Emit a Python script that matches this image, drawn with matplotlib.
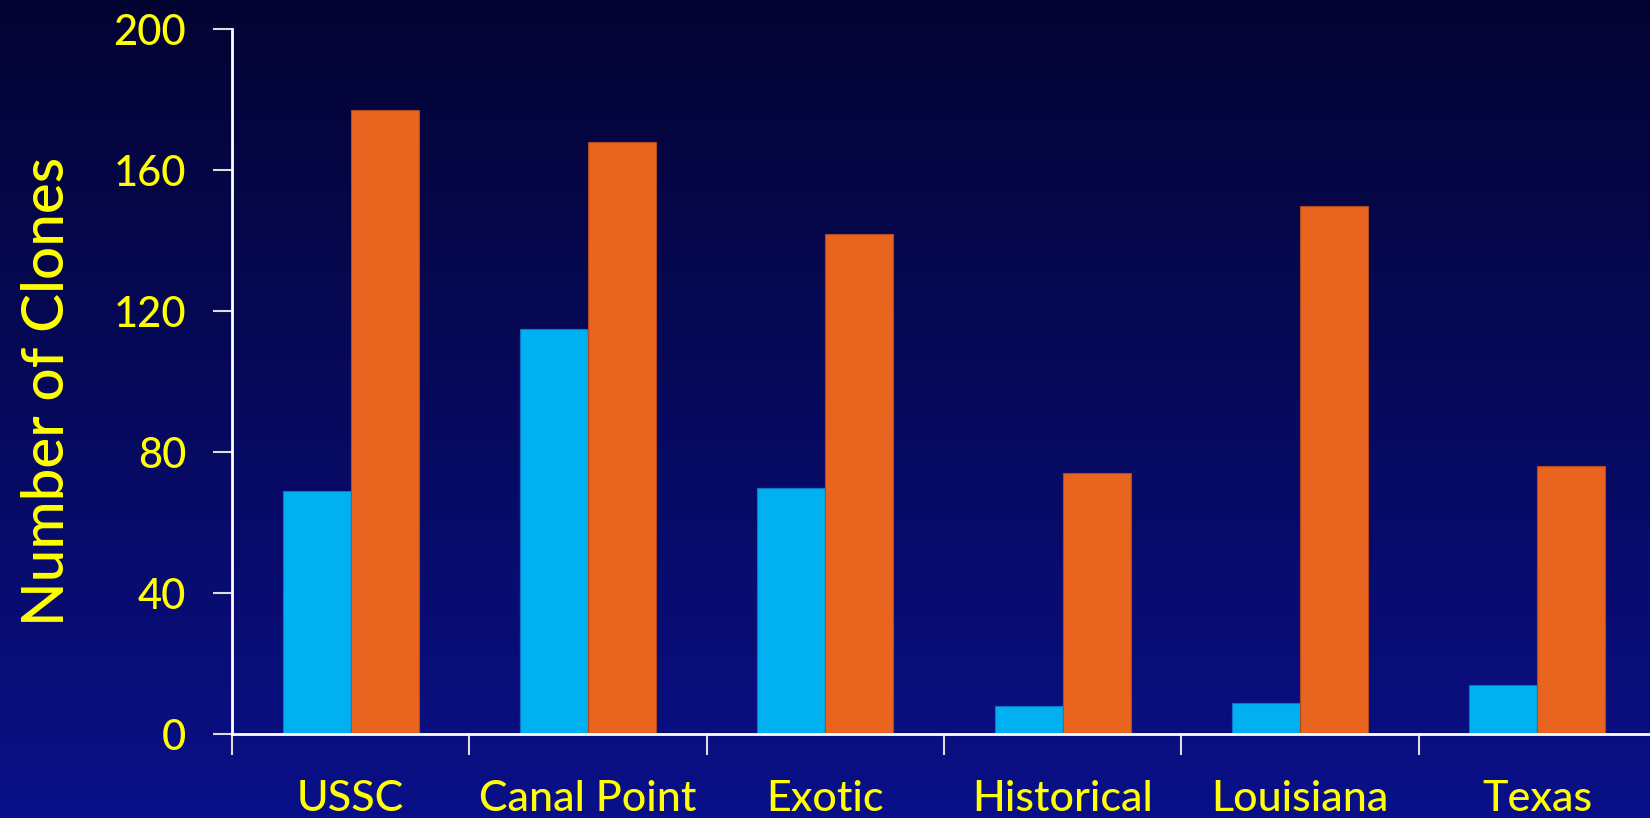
import matplotlib.pyplot as plt
import numpy as np

categories = ['USSC', 'Canal Point', 'Exotic', 'Historical', 'Louisiana', 'Texas']
blue_vals = [69, 115, 70, 8, 9, 14]
orange_vals = [177, 168, 142, 74, 150, 76]
y_ticks = [0, 40, 80, 120, 160, 200]

plt.rcParams['font.family'] = ['Lato', 'DejaVu Sans']
plt.rcParams['font.weight'] = 'medium'

fig = plt.figure(figsize=(16.5, 8.18), dpi=100)

# gradient background
bg = fig.add_axes([0, 0, 1, 1], zorder=-10)
grad = np.linspace(0, 1, 256).reshape(-1, 1)
top = np.array([3, 3, 50]) / 255
bot = np.array([10, 16, 136]) / 255
img = top + (bot - top) * grad[:, :, None]
bg.imshow(img, aspect='auto', extent=[0, 1, 0, 1], origin='upper')
bg.axis('off')

ax = fig.add_axes([232 / 1650, (818 - 734.3) / 818, (1656 - 232) / 1650, 705 / 818])
ax.patch.set_alpha(0)

x = np.arange(len(categories))
w = 0.286
ax.bar(x - w / 2, blue_vals, w, color='#00B0F0', edgecolor='#0a78c8', linewidth=0.8)
ax.bar(x + w / 2, orange_vals, w, color='#E9641E', edgecolor='#b04a20', linewidth=0.8)

ax.set_xlim(-0.5, 5.5)
ax.set_ylim(0, 200)
ax.set_yticks(y_ticks)
ax.set_xticks(x)
ax.set_xticklabels(categories)
ax.set_xticks(np.arange(-0.5, 5.0, 1), minor=True)
ax.tick_params(axis='x', which='major', length=0, pad=33, labelsize=31, labelcolor='yellow')
ax.tick_params(axis='x', which='minor', length=15, width=1.5, color='#dddddd', direction='out')
ax.tick_params(axis='y', length=14, width=1.5, color='#dddddd', pad=19, labelsize=30, labelcolor='yellow')

for s in ['top', 'right']:
    ax.spines[s].set_visible(False)
for s in ['left', 'bottom']:
    ax.spines[s].set_color('white')
    ax.spines[s].set_linewidth(2)

fig.text(48 / 1650, (818 - 391) / 818, 'Number of Clones', rotation=90, color='yellow',
         fontsize=42, ha='center', va='center')

fig.savefig('out.png', dpi=100)
